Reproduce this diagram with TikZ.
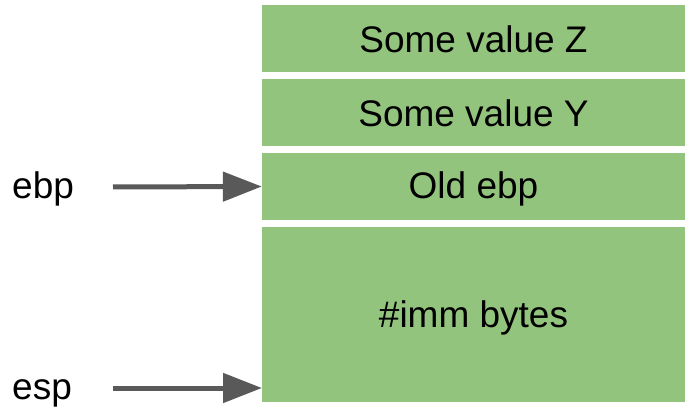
\documentclass[tikz,border=0pt]{standalone}
\usepackage{fontspec}
\setmainfont{Liberation Sans}
\usetikzlibrary{arrows.meta}
\definecolor{cellgreen}{HTML}{93C47D}
\definecolor{arrowgray}{HTML}{595959}
\tikzset{
  cell/.style={fill=cellgreen, draw=none, inner sep=0pt, text height=28pt, text depth=0pt,
    minimum width=423pt, font=\fontsize{37}{44}\selectfont},
  lbl/.style={inner sep=0pt, anchor=base west, font=\fontsize{37}{44}\selectfont},
  ptr/.style={draw=arrowgray, line width=5pt, -{Triangle[length=39pt,width=29pt]}}
}
\begin{document}
\begin{tikzpicture}[x=1pt,y=-1pt]
\useasboundingbox (0,0) rectangle (685,411);
\node[cell, minimum height=67pt] (z) at (473.5,38.5) {Some value Z};
\node[cell, minimum height=67pt] (y) at (473.5,112.5) {Some value Y};
\node[cell, minimum height=67pt, text depth=4pt] (old) at (473.5,186.5) {Old ebp};
\node[cell, minimum height=175pt, text depth=2pt] (imm) at (473.5,314.5) {\#imm bytes};
\node[lbl] (ebp) at (12,198.3) {ebp};
\node[lbl] (esp) at (12,399) {esp};
\coordinate (ebps) at (113,187);
\coordinate (esps) at (113,388);
\coordinate (espt) at (262,388);
\draw[ptr] (ebps) -- (old.west);
\draw[ptr] (esps) -- (espt);
\end{tikzpicture}
\end{document}
